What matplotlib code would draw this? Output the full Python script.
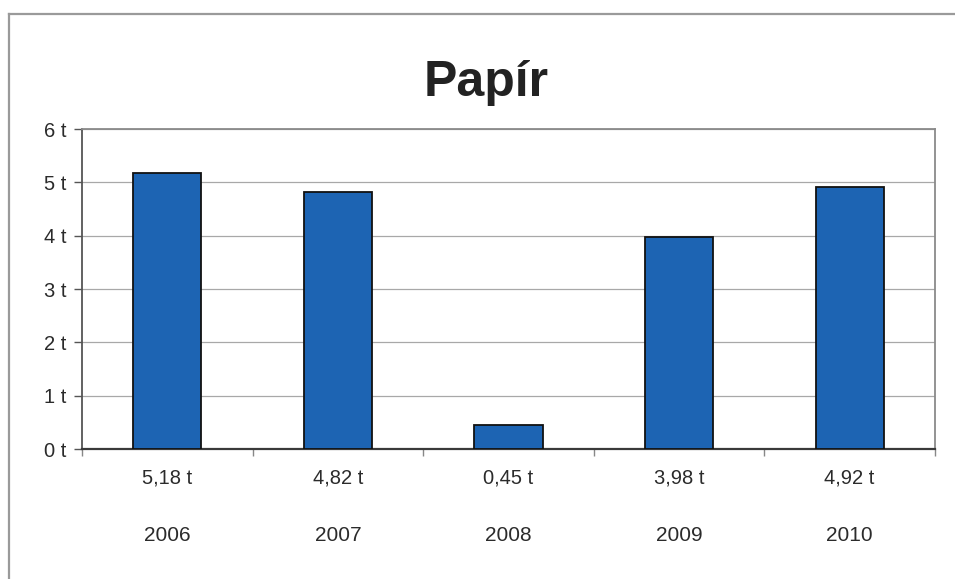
import matplotlib
matplotlib.use('Agg')
import matplotlib.pyplot as plt
from matplotlib.lines import Line2D
from matplotlib.transforms import blended_transform_factory

years = ['2006', '2007', '2008', '2009', '2010']
tonnes = [5.18, 4.82, 0.45, 3.98, 4.92]
y_ticks = [0, 1, 2, 3, 4, 5, 6]

plt.rcParams['font.family'] = ['Liberation Sans', 'DejaVu Sans']
text_color = '#2b2b2b'

fig = plt.figure(figsize=(9.55, 5.79), dpi=100)
fig.patch.set_facecolor('white')

# outer chart frame (scanned border, only top and left visible)
fig.add_artist(Line2D([0.009, 1.0], [0.975, 0.975], color='#9a9a9a', lw=1.6))
fig.add_artist(Line2D([0.0095, 0.0095], [0.0, 0.975], color='#9a9a9a', lw=1.6))

ax = fig.add_axes([0.0859, 0.2245, 0.8931, 0.5527])
x = list(range(len(years)))
ax.bar(x, tonnes, width=0.4, color='#1d64b3', edgecolor='#111111', linewidth=1.3, zorder=3)

ax.set_xlim(-0.5, len(years) - 0.5)
ax.set_ylim(0, 6)
ax.set_yticks(y_ticks)
ax.set_yticklabels(['{} t'.format(v) for v in y_ticks], fontsize=14.5, color=text_color)
ax.yaxis.grid(True, color='#a8a8a8', linewidth=0.9, zorder=0)

# category boundaries as ticks, labels drawn separately
ax.set_xticks([i - 0.5 for i in range(len(years) + 1)])
ax.set_xticklabels([])
ax.tick_params(axis='x', length=5, color='#888888', width=1)
ax.tick_params(axis='y', length=6, color='#555555', width=1, pad=5)

for side in ['top', 'right']:
    ax.spines[side].set_color('#8a8a8a')
    ax.spines[side].set_linewidth(1.3)
ax.spines['left'].set_color('#555555')
ax.spines['left'].set_linewidth(1.3)
ax.spines['bottom'].set_color('#3a3a3a')
ax.spines['bottom'].set_linewidth(1.6)

trans = blended_transform_factory(ax.transData, ax.transAxes)
for i, v in enumerate(tonnes):
    label = '{:.2f}'.format(v).replace('.', ',') + ' t'
    ax.text(i, -0.092, label, transform=trans, ha='center', va='center',
            fontsize=14.5, color=text_color)
    ax.text(i, -0.27, years[i], transform=trans, ha='center', va='center',
            fontsize=15, color=text_color)

fig.text(0.509, 0.857, 'Papír', ha='center', va='center', fontsize=36,
         fontweight='bold', color='#222222')

fig.savefig('out.png', dpi=100)
